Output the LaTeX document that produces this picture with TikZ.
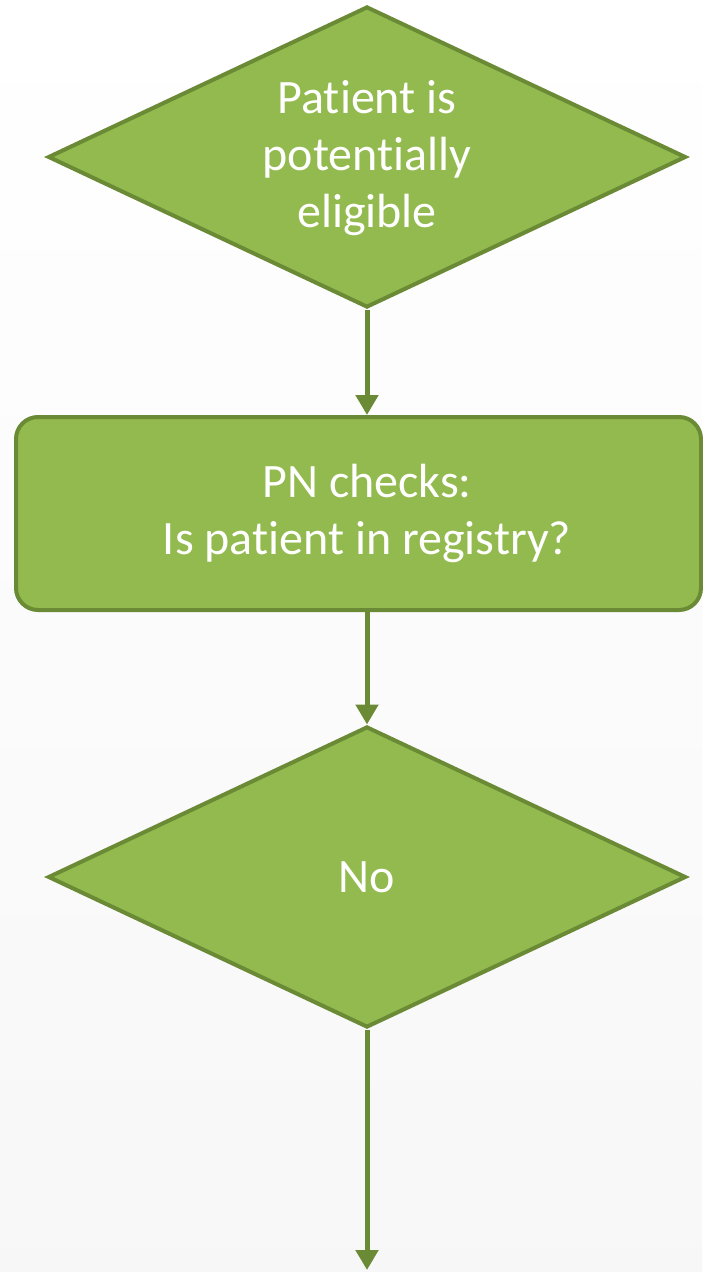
\documentclass[tikz,border=0pt]{standalone}
\usepackage{fontspec}
\setmainfont{Carlito}[Ligatures={NoCommon}]
\usetikzlibrary{shapes.geometric,arrows.meta}
\definecolor{gfill}{HTML}{92BA4E}
\definecolor{gline}{HTML}{6A8A35}
\tikzset{
  decision/.style={diamond, draw=gline, fill=gfill, line width=4pt, inner sep=0pt,
    minimum width=638pt, minimum height=301pt},
  process/.style={rectangle, rounded corners=22pt, draw=gline, fill=gfill, line width=4pt,
    minimum width=685pt, minimum height=193pt},
  label/.style={text=white, align=center, font=\fontsize{48}{57}\selectfont},
  flow/.style={draw=gline, line width=5pt, -{Triangle[length=20pt,width=22pt]}}
}
\begin{document}
\begin{tikzpicture}[x=1pt,y=-1pt]
\shade[top color=white, bottom color=black!3] (0,0) rectangle (702,1272);
\useasboundingbox (0,0) rectangle (702,1272);
\node[decision] (d1) at (367,157) {};
\node[label] (d1t) at (367,158) {Patient is\\potentially\\eligible};
\node[process] (p1) at (358.5,513.5) {};
\node[label] (p1t) at (367,513.5) {PN checks:\\Is patient in registry?};
\node[decision] (d2) at (367,877) {};
\node[label] (d2t) at (367,877) {No};
\coordinate (end) at (367,1270);
\draw[flow] (d1.south) -- (d1.south |- p1.north);
\draw[flow] (d2.north |- p1.south) -- (d2.north);
\draw[flow] (d2.south) -- (end);
\end{tikzpicture}
\end{document}
